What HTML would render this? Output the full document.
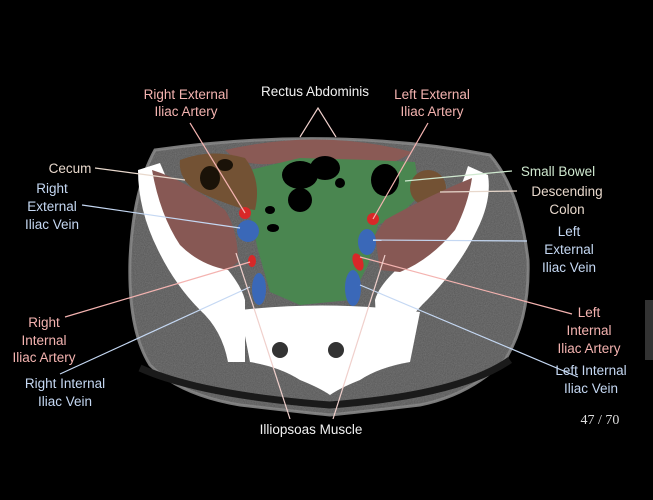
<!DOCTYPE html>
<html><head><style>
html,body{margin:0;padding:0;background:#000;width:653px;height:500px;overflow:hidden}
svg{display:block}
text{font-family:"Liberation Sans",sans-serif;font-size:13.5px;text-anchor:middle}
.p{fill:#f4b3b0}.b{fill:#c5d8f3}.w{fill:#f2f2f2}.g{fill:#cfe8cf}.t{fill:#e8d8cc}
</style></head><body>
<svg width="653" height="500" viewBox="0 0 653 500">
<defs>
<filter id="n"><feTurbulence type="fractalNoise" baseFrequency="0.9" numOctaves="2"/><feColorMatrix values="0 0 0 0 0.4 0 0 0 0 0.4 0 0 0 0 0.4 0 0 0 0.4 0"/><feComposite in2="SourceGraphic" operator="in"/></filter>
</defs>
<rect width="653" height="500" fill="#000"/>
<rect x="645" y="300" width="8" height="60" fill="#333"/>
<!-- body -->
<path d="M155,150 Q330,125 490,155 Q520,190 528,260 Q530,320 505,360 Q470,395 420,405 Q360,412 330,415 Q300,412 240,405 Q180,395 150,365 Q128,330 130,260 Q133,190 155,150Z" fill="#555" stroke="#7a7a7a" stroke-width="3"/>
<path d="M155,150 Q330,125 490,155 Q520,190 528,260 Q530,320 505,360 Q470,395 420,405 Q360,412 330,415 Q300,412 240,405 Q180,395 150,365 Q128,330 130,260 Q133,190 155,150Z" fill="#666" filter="url(#n)"/>
<path d="M140,368 Q200,395 330,405 Q460,395 510,360" fill="none" stroke="#1a1a1a" stroke-width="7"/>
<!-- rectus -->
<path d="M225,150 Q320,128 412,152 Q395,165 370,166 Q335,160 322,168 Q300,160 270,164 Q240,166 225,150Z" fill="#8a5a55"/>
<!-- green bowel -->
<path d="M250,170 L300,158 L370,160 L415,162 L420,195 L400,215 L378,225 L368,265 L350,300 L300,305 L270,292 L258,250 L250,215 Z" fill="#4a8650"/>
<ellipse cx="300" cy="175" rx="18" ry="14" fill="#000"/><ellipse cx="325" cy="168" rx="15" ry="12" fill="#000"/><ellipse cx="300" cy="200" rx="12" ry="12" fill="#000"/>
<ellipse cx="385" cy="180" rx="14" ry="16" fill="#000"/><ellipse cx="270" cy="210" rx="5" ry="4" fill="#000"/><ellipse cx="273" cy="228" rx="6" ry="4" fill="#000"/><ellipse cx="340" cy="183" rx="5" ry="5" fill="#000"/>
<!-- cecum -->
<path d="M180,160 Q210,148 245,158 Q262,180 255,210 L240,208 Q215,200 195,190 Q178,178 180,160Z" fill="#735234"/>
<ellipse cx="210" cy="178" rx="10" ry="12" fill="#1a1208"/><ellipse cx="225" cy="165" rx="8" ry="6" fill="#1a1208"/>
<!-- descending colon -->
<ellipse cx="428" cy="188" rx="18" ry="18" fill="#735234"/>
<!-- ilium bones -->
<path d="M138,170 L160,163 Q175,200 210,250 Q240,280 245,300 L245,362 L228,362 Q222,330 200,310 Q175,285 158,250 Q138,210 138,170Z" fill="#fff"/>
<path d="M488,175 L468,166 Q455,210 420,250 Q380,280 375,300 L378,362 L392,362 Q398,330 422,305 Q458,270 477,230 Q492,200 488,175Z" fill="#fff"/>
<!-- iliacus -->
<path d="M152,170 Q185,180 225,210 Q238,230 238,262 L228,270 Q200,265 180,245 Q160,215 152,170Z" fill="#875854"/>
<path d="M472,178 Q430,195 385,220 L375,235 L380,270 L400,272 Q430,260 455,230 Q468,205 472,178Z" fill="#875854"/>
<!-- sacrum -->
<path d="M240,310 Q330,300 420,312 L410,362 Q380,367 360,380 Q340,388 330,395 Q320,388 300,380 Q280,367 250,362Z" fill="#fff"/>
<ellipse cx="280" cy="350" rx="8" ry="8" fill="#333"/><ellipse cx="336" cy="350" rx="8" ry="8" fill="#333"/>
<!-- vessels -->
<ellipse cx="245" cy="213" rx="6" ry="6" fill="#d82828"/><ellipse cx="373" cy="219" rx="6" ry="6" fill="#d82828"/>
<ellipse cx="248" cy="231" rx="11" ry="11" fill="#3a68b8"/><ellipse cx="367" cy="242" rx="9" ry="13" fill="#3a68b8"/>
<ellipse cx="252" cy="261" rx="4" ry="6" fill="#d82828"/><ellipse cx="358" cy="262" rx="5" ry="9" fill="#d82828" transform="rotate(-20 358 262)"/>
<ellipse cx="259" cy="289" rx="7" ry="16" fill="#3a68b8"/><ellipse cx="353" cy="288" rx="8" ry="18" fill="#3a68b8"/>
<!-- leader lines -->
<g stroke-width="1.2" fill="none">
<path d="M300,137 L318,108 L336,137" stroke="#f0d0cc"/>
<path d="M190,123 L245,213" stroke="#f4b3b0"/>
<path d="M428,123 L373,219" stroke="#f4b3b0"/>
<path d="M95,168 L185,180" stroke="#e8d8cc"/>
<path d="M512,171 L405,181" stroke="#cfe8cf"/>
<path d="M517,191 L440,192" stroke="#e8d8cc"/>
<path d="M82,205 L240,228" stroke="#c5d8f3"/>
<path d="M527,241 L373,240" stroke="#c5d8f3"/>
<path d="M65,317 L250,262" stroke="#f4b3b0"/>
<path d="M572,314 L360,257" stroke="#f4b3b0"/>
<path d="M60,374 L250,287" stroke="#c5d8f3"/>
<path d="M578,377 L360,285" stroke="#c5d8f3"/>
<path d="M236,253 L290,419" stroke="#f0d0cc"/>
<path d="M385,255 L333,419" stroke="#f0d0cc"/>
</g>
<text x="315" y="96" class="w">Rectus Abdominis</text>
<text x="186" y="99" class="p">Right External</text><text x="186" y="116" class="p">Iliac Artery</text>
<text x="432" y="99" class="p">Left External</text><text x="432" y="116" class="p">Iliac Artery</text>
<text x="70" y="173" class="t">Cecum</text>
<text x="558" y="176" class="g">Small Bowel</text>
<text x="567" y="196" class="t">Descending</text><text x="567" y="214" class="t">Colon</text>
<text x="52" y="193" class="b">Right</text><text x="52" y="211" class="b">External</text><text x="52" y="229" class="b">Iliac Vein</text>
<text x="569" y="236" class="b">Left</text><text x="569" y="254" class="b">External</text><text x="569" y="272" class="b">Iliac Vein</text>
<text x="44" y="327" class="p">Right</text><text x="44" y="345" class="p">Internal</text><text x="44" y="362" class="p">Iliac Artery</text>
<text x="589" y="317" class="p">Left</text><text x="589" y="335" class="p">Internal</text><text x="589" y="353" class="p">Iliac Artery</text>
<text x="65" y="388" class="b">Right Internal</text><text x="65" y="406" class="b">Iliac Vein</text>
<text x="591" y="375" class="b">Left Internal</text><text x="591" y="393" class="b">Iliac Vein</text>
<text x="311" y="434" class="w">Illiopsoas Muscle</text>
<text x="600" y="424" style="font-family:'Liberation Serif',serif;font-size:14px;fill:#ddd">47 / 70</text>
</svg>
</body></html>
